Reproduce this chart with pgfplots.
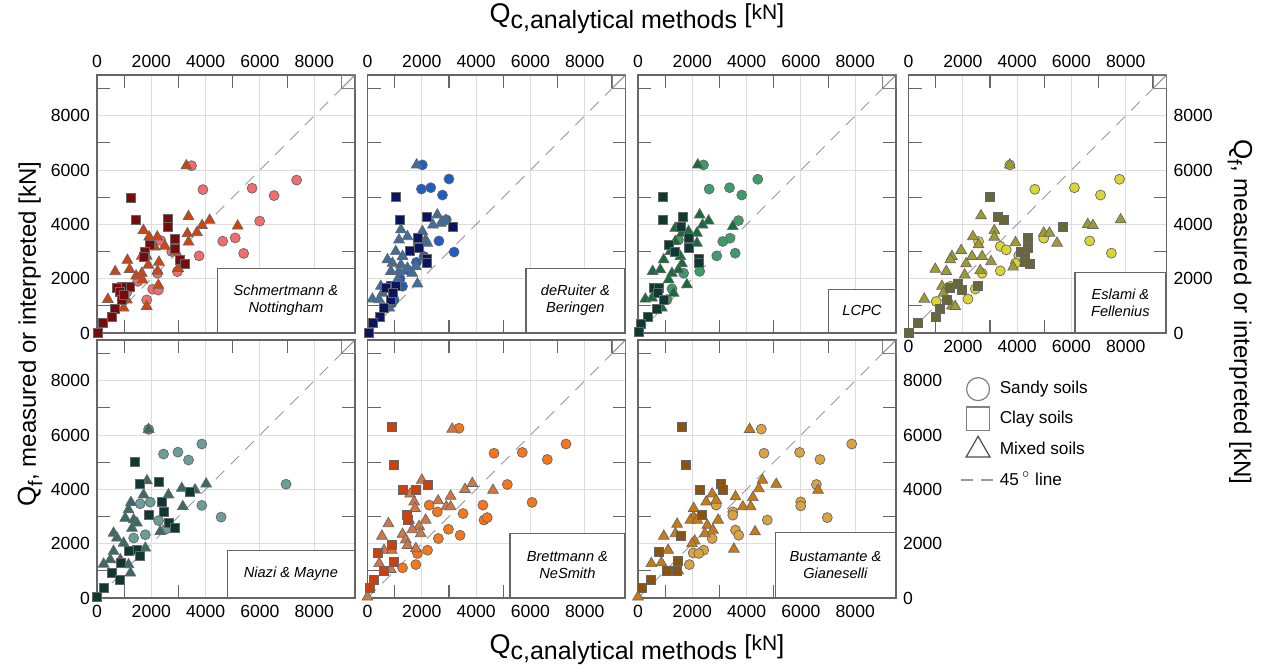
\documentclass[border=0pt]{standalone}
\usepackage{pgfplots}
\pgfplotsset{compat=1.18}
\usepackage{fontspec}
\setmainfont{Liberation Sans}

\definecolor{framec}{HTML}{666666}
\definecolor{gridc}{HTML}{DDDDDD}
\definecolor{aC}{HTML}{F26D6D}\definecolor{aS}{HTML}{780B0B}\definecolor{aT}{HTML}{D2430F}
\definecolor{bC}{HTML}{1F5CC4}\definecolor{bS}{HTML}{0B145E}\definecolor{bT}{HTML}{3F6E9C}
\definecolor{cC}{HTML}{3E9C6B}\definecolor{cS}{HTML}{0F3A33}\definecolor{cT}{HTML}{156C3C}
\definecolor{dC}{HTML}{DAD535}\definecolor{dS}{HTML}{67673B}\definecolor{dT}{HTML}{9E9B30}
\definecolor{eC}{HTML}{6B9D99}\definecolor{eS}{HTML}{0F3833}\definecolor{eT}{HTML}{3B6A67}
\definecolor{fC}{HTML}{F7761A}\definecolor{fS}{HTML}{C9410F}\definecolor{fT}{HTML}{D27645}
\definecolor{gC}{HTML}{DBA243}\definecolor{gS}{HTML}{8B530F}\definecolor{gT}{HTML}{C87B12}

\newcommand{\tickfont}{\fontsize{8.8}{10}\selectfont}
\newcommand{\boxfont}{\fontsize{7.3}{8.6}\selectfont\itshape}

\pgfplotsset{
  panel/.style={
    scale only axis, width=129pt, height=129pt,
    xmin=0, xmax=9500, ymin=0, ymax=9500,
    xtick={0,2000,...,8000}, ytick={0,2000,...,8000},
    minor xtick={1000,3000,5000,7000,9000}, minor ytick={1000,3000,5000,7000,9000},
    major tick length=0pt, minor tick length=6.5pt, tick align=inside,
    xmajorgrids, ymajorgrids,
    grid style={draw=gridc, line width=0.5pt},
    axis line style={draw=framec, line width=0.7pt},
    every tick/.style={draw=framec, line width=0.6pt},
    ticklabel style={font=\tickfont, text=black},
    /pgf/number format/1000 sep={},
    /pgf/number format/assume math mode=true,
    clip=false,
  },
  circ/.style={only marks, mark=*, mark size=2.5pt, mark options={fill=#1, draw=black!60, line width=0.35pt}},
  sq/.style={only marks, mark=square*, mark size=2.25pt, mark options={fill=#1, draw=black!60, line width=0.35pt}},
  tri/.style={only marks, mark=triangle*, mark size=3.1pt, mark options={fill=#1, draw=black!60, line width=0.35pt}},
}

% 45 degree line and corner box
\newcommand{\diagline}{%
  \draw[gray!80, line width=0.5pt, dash pattern=on 6pt off 4.5pt] (axis cs:0,0) -- (axis cs:9000,9000);
  \draw[gray, line width=0.5pt] (axis cs:9020,9020) rectangle (axis cs:9500,9500);
  \draw[gray, line width=0.5pt] (axis cs:9020,9020) -- (axis cs:9500,9500);}
\newcommand{\methodbox}[3]{%
  \node[draw=framec, fill=white, line width=0.6pt, anchor=south east, minimum width=#1,
        minimum height=#2, inner sep=1pt, align=center, font=\boxfont] at (rel axis cs:1,0) {#3};}
\newcommand{\xtitle}{\fontsize{13.5}{15}\selectfont Q\raisebox{-0.22em}{\fontsize{12.5}{14}\selectfont c,analytical methods}%
   {\fontsize{13}{14}\selectfont\ [\raisebox{0.12em}{\fontsize{10.5}{12}\selectfont kN}]}}
\newcommand{\ytitle}{\fontsize{13}{15}\selectfont Q\raisebox{-0.25em}{\fontsize{10}{12}\selectfont f}{\fontsize{12}{14}\selectfont, measured or interpreted [kN]}}

\begin{document}
\begin{tikzpicture}
\useasboundingbox (0,0) rectangle (631.5pt,-334pt);

% ---------- Schmertmann & Nottingham
\begin{axis}[panel, at={(48.5pt,-37.5pt)}, anchor=north west, xticklabel pos=upper, yticklabel pos=left]
\diagline
\addplot[circ=aC] coordinates {(3480,6160) (3900,5280) (5710,5330) (7350,5630) (6520,5060) (5990,4120)
  (4630,3380) (5090,3500) (5400,2930) (3760,2840) (2350,3400) (2960,2260) (2230,2200) (2050,1610)
  (1830,1220) (2260,1580) (980,1220) (2750,3000) (1500,1900) (1100,1500)};
\addplot[tri=aT] coordinates {(3290,6160) (3370,4290) (4150,4150) (3870,3960) (3680,3700) (3330,3660)
  (3370,3350) (5180,3940) (1710,3780) (1920,3540) (2220,3540) (2130,3170) (1650,2830) (1830,2830)
  (2280,2610) (1890,2500) (1120,2680) (1200,2340) (670,2260) (1440,2100) (1650,2200) (2230,2280)
  (2260,1760) (1680,1950) (400,1240) (1100,1220) (1830,980) (980,920) (2990,2380) (2900,3000) (2500,3200)};
\addplot[sq=aS] coordinates {(1240,4980) (1430,4150) (2600,4210) (2620,3900) (2870,3480) (2870,3110)
  (3050,2680) (3230,2540) (1950,3230) (1770,2990) (1710,2810) (1220,1710) (920,1710) (730,1650)
  (850,1520) (920,1220) (670,880) (550,610) (220,370) (20,20) (1000,1400)};
\methodbox{68.5pt}{32pt}{Schmertmann \&\\Nottingham}
\end{axis}

% ---------- deRuiter & Beringen
\begin{axis}[panel, at={(183.75pt,-37.5pt)}, anchor=north west, xticklabel pos=upper, yticklabels={}]
\diagline
\addplot[circ=bC] coordinates {(2020,6190) (3000,5670) (1985,5300) (2330,5350) (2760,5080) (2900,4170)
  (2630,3390) (3190,2980) (2080,2820) (1470,2330) (1290,1720) (980,1230) (1800,2600) (1200,2000) (900,1100)};
\addplot[tri=bT] coordinates {(1810,6190) (2570,4350) (2410,3980) (2700,4040) (2880,4140) (1230,3800)
  (1160,3430) (1470,3550) (2020,3740) (2140,3430) (2200,3310) (1040,3000) (1290,2820) (735,2700)
  (920,2570) (1230,2510) (1780,2450) (860,2270) (1160,2270) (1470,2390) (1650,2200) (490,1720)
  (550,1470) (180,1250) (1840,1810) (1100,1960) (800,920) (430,1230)};
\addplot[sq=bS] coordinates {(1040,5000) (1190,4170) (2200,4290) (3150,3920) (1840,3490) (1840,3190)
  (1570,3040) (2200,2720) (2200,2570) (1900,3120) (860,1720) (670,1650) (1040,1720) (860,1230)
  (610,920) (450,610) (180,370) (40,20) (920,1470)};
\methodbox{49.5pt}{32pt}{deRuiter \&\\Beringen}
\end{axis}

% ---------- LCPC
\begin{axis}[panel, at={(319pt,-37.5pt)}, anchor=north west, xticklabel pos=upper, yticklabels={}]
\diagline
\addplot[circ=cC] coordinates {(2410,6190) (4410,5660) (2620,5300) (3370,5350) (3820,5080) (3700,4140)
  (3390,3490) (3120,3370) (3580,2940) (2900,2840) (1680,2200) (2270,2270) (1250,1630) (1070,1230) (1490,3430)};
\addplot[tri=cT] coordinates {(2200,6190) (2270,4350) (2600,4130) (2380,3980) (3490,3920) (1370,3860)
  (1620,3680) (1860,3740) (2170,3680) (1370,3370) (2170,3310) (1190,3000) (1560,2820) (945,2700)
  (1620,2550) (540,2270) (820,2330) (1250,2200) (1490,2330) (1130,1960) (1800,1780) (270,1250)
  (515,1290) (880,920) (1310,1470)};
\addplot[sq=cS] coordinates {(905,5020) (905,4170) (1650,4260) (1560,3920) (1860,3490) (1860,3120)
  (1130,3250) (1350,3000) (2230,2720) (2230,2570) (575,1650) (760,1650) (735,1470) (940,1230)
  (700,880) (355,610) (120,340) (25,25)};
\methodbox{33.5pt}{21.5pt}{LCPC}
\end{axis}

% ---------- Eslami & Fellenius
\begin{axis}[panel, at={(454.25pt,-37.5pt)}, anchor=north west, xticklabel pos=upper, yticklabel pos=right]
\diagline
\addplot[circ=dC] coordinates {(3730,6190) (4650,5290) (6110,5350) (7770,5660) (7070,5080) (6670,3390)
  (7470,2940) (4980,3490) (3380,3190) (3600,3060) (4060,2850) (3940,2570) (3380,2290) (2710,2200)
  (2580,3370) (2460,1620) (2190,1250) (1020,1160) (1540,1720)};
\addplot[tri=dT] coordinates {(3730,6190) (2670,4320) (3160,3770) (3160,3530) (2370,3550) (2580,3250)
  (4980,3680) (5190,3680) (5470,3310) (6600,4000) (6790,3960) (7810,4170) (3940,3330) (3850,2430)
  (1600,2820) (1540,2700) (1940,3040) (2340,2820) (2710,2820) (3040,2630) (2120,2550) (985,2350)
  (1390,2270) (2640,2300) (2070,2140) (1230,1720) (580,1250) (1600,1000) (1720,980) (1290,1470)};
\addplot[sq=dS] coordinates {(2990,5000) (3280,4260) (3500,4170) (5690,3900) (4400,3520) (4400,3120)
  (4150,3000) (4270,2760) (4300,2630) (4460,2550) (2550,1740) (1810,1810) (1510,1650) (1970,1590)
  (1410,1230) (1140,880) (1020,610) (340,370) (0,0)};
\methodbox{45.5pt}{30pt}{Eslami \&\\Fellenius}
\end{axis}
% bottom tick labels of the Eslami panel
\begin{axis}[panel, at={(454.25pt,-37.5pt)}, anchor=north west, xticklabel pos=lower, yticklabels={},
  axis line style={draw=none}, xmajorgrids=false, ymajorgrids=false, minor tick length=0pt,
  every tick/.style={draw=none}]
\addplot[draw=none] coordinates {(0,0)};
\end{axis}

% ---------- Niazi & Mayne
\begin{axis}[panel, at={(48.5pt,-170pt)}, anchor=north west, xticklabel pos=lower, yticklabel pos=left]
\diagline
\addplot[circ=eC] coordinates {(1900,6210) (3860,5670) (2450,5300) (2980,5370) (3370,5080) (6960,4190)
  (3860,3410) (4570,2980) (1960,3530) (1590,3470) (2270,2850) (2550,2540) (1780,2330) (1350,2210)};
\addplot[tri=eT] coordinates {(1900,6210) (1840,4320) (2630,3800) (1715,3800) (3120,4040) (3610,3980)
  (4020,4200) (3160,3370) (1250,3520) (1160,3250) (1040,2940) (1350,2880) (1470,2760) (1290,2570)
  (610,2390) (735,2210) (980,2020) (2330,2450) (1780,1840) (610,1720) (245,1250) (1160,1230)
  (860,1410) (1230,920) (490,1410)};
\addplot[sq=eS] coordinates {(1380,5020) (1560,4190) (2270,4290) (3430,3920) (2390,3530) (2450,3190)
  (1900,3060) (2630,2760) (2850,2600) (1470,1780) (1560,1560) (1160,1720) (860,1290) (550,920)
  (830,670) (245,390) (0,25)};
\methodbox{63.5pt}{23.5pt}{Niazi \& Mayne}
\end{axis}

% ---------- Brettmann & NeSmith
\begin{axis}[panel, at={(183.75pt,-170pt)}, anchor=north west, xticklabel pos=lower, yticklabels={}]
\diagline
\addplot[circ=fC] coordinates {(3370,6250) (4660,5330) (5700,5360) (7310,5670) (6620,5100) (5150,4180)
  (6060,3520) (4250,3420) (4290,2870) (4410,2960) (3520,3110) (2270,3420) (2570,3170) (2980,2530)
  (3410,2310) (2610,2190) (2210,1760) (1840,1640) (1780,1230) (1290,1110)};
\addplot[tri=fT] coordinates {(3120,6220) (2000,4340) (3860,4220) (3590,4000) (4620,3970) (1570,3830)
  (1720,3540) (1750,3300) (2600,3580) (3060,3750) (2900,3360) (3060,3360) (770,2740) (1530,2870)
  (2140,2870) (1900,2640) (1650,2520) (1960,2370) (1290,2350) (530,2280) (1410,2150) (1470,1940)
  (610,1760) (895,1760) (1780,1820) (430,1270) (860,1050) (0,40)};
\addplot[sq=fS] coordinates {(895,6290) (980,4900) (2230,4160) (1290,4000) (1780,4000) (1450,3050)
  (1470,2870) (895,1970) (370,1670) (980,1330) (610,1000) (245,680) (100,380)};
\methodbox{57.5pt}{32pt}{Brettmann \&\\NeSmith}
\end{axis}

% ---------- Bustamante & Gianeselli
\begin{axis}[panel, at={(319pt,-170pt)}, anchor=north west, xticklabel pos=lower, yticklabel pos=right]
\diagline
\addplot[circ=gC] coordinates {(4540,6220) (4640,5330) (5950,5360) (7870,5670) (6700,5100) (6570,4180)
  (5990,3540) (5990,3390) (6970,2960) (4760,2870) (3490,3170) (3490,3050) (3590,2500) (3710,2310)
  (2880,3420) (2730,2190) (2420,1760) (2030,1660) (2240,1640) (1890,1230)};
\addplot[tri=gT] coordinates {(4110,6210) (4580,4340) (5090,4190) (4450,4030) (6630,3970) (2730,3830)
  (2510,3540) (2880,3600) (3590,3730) (4230,3700) (3860,3360) (4150,3360) (2050,3300) (2050,2990)
  (1930,2870) (2180,2870) (2950,2870) (1440,2720) (1380,2370) (950,2280) (2550,2680) (2760,2500)
  (2460,2370) (2090,2100) (4310,2440) (3530,1800) (1110,1760) (860,1300) (490,1270) (1480,1000)
  (0,40) (1990,2000)};
\addplot[sq=gS] coordinates {(1620,6290) (1750,4900) (3040,4190) (3140,4000) (2280,4000) (2360,3050)
  (1560,2280) (760,1700) (1480,1350) (1070,1000) (1440,1000) (490,680) (150,380)};
\methodbox{60pt}{32.5pt}{Bustamante \&\\Gianeselli}
\end{axis}

% ---------- legend
\begin{axis}[at={(480pt,-193.5pt)}, anchor=south west, scale only axis, width=5pt, height=5pt,
  hide axis, xmin=0, xmax=1, ymin=0, ymax=1,
  legend style={at={(0,1)}, anchor=north west, draw=none, fill=none, inner sep=0pt,
    row sep=3pt, font=\fontsize{8.6}{10}\selectfont, cells={anchor=west},
    nodes={inner sep=2pt}},
  legend cell align=left]
\addlegendimage{only marks, mark=o, mark size=5.75pt, draw=gray, line width=0.6pt}
\addlegendentry{Sandy soils}
\addlegendimage{only marks, mark=square, mark size=5.8pt, draw=gray, line width=0.6pt}
\addlegendentry{Clay soils}
\addlegendimage{only marks, mark=triangle, mark size=6.9pt, draw=gray!60!black, line width=0.6pt}
\addlegendentry{Mixed soils}
\addlegendimage{gray!80, line width=0.6pt, dash pattern=on 6pt off 4pt}
\addlegendentry{45\,$^{\circ}$ line}
\end{axis}

% ---------- axis titles
\node[anchor=center] at (318.5pt,-9.5pt) {\xtitle};
\node[anchor=center] at (318.5pt,-325pt) {\xtitle};
\node[rotate=90, anchor=center] at (15pt,-167pt) {\ytitle};
\node[rotate=-90, anchor=center] at (620pt,-156pt) {\ytitle};
\end{tikzpicture}
\end{document}
